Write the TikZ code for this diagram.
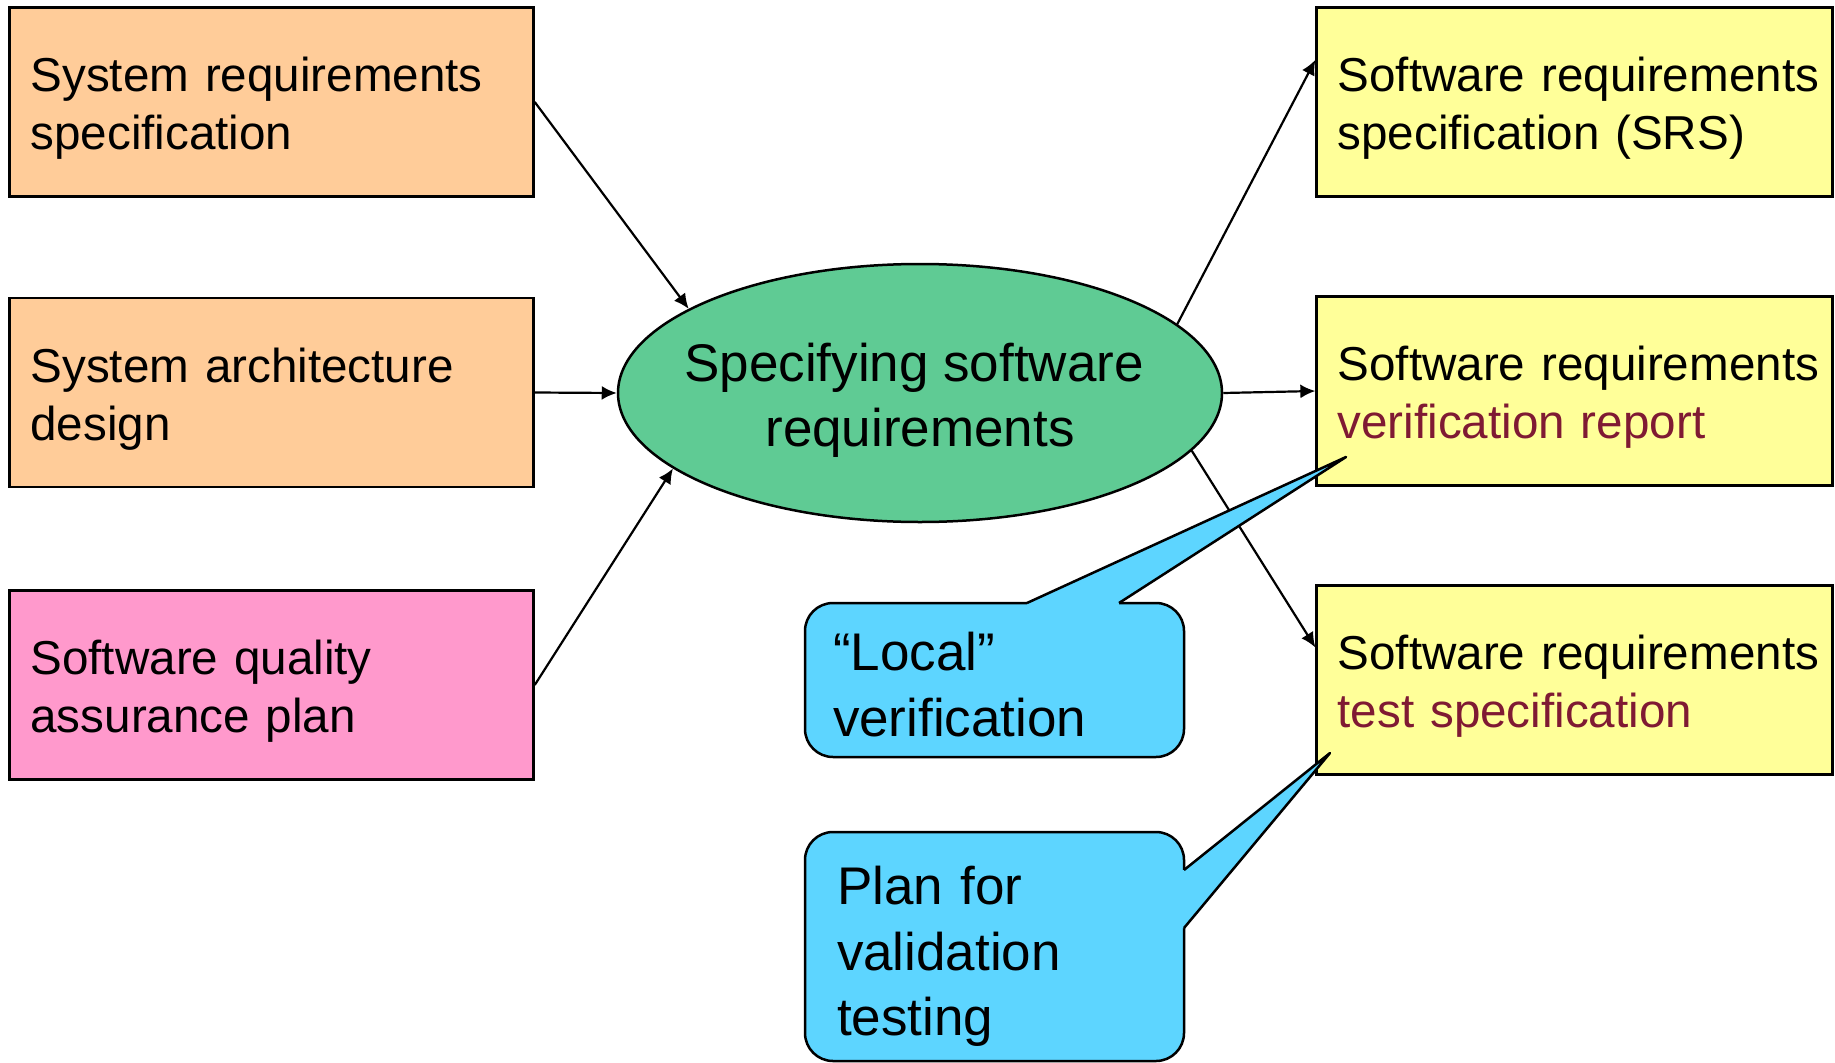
\documentclass[tikz,border=0pt]{standalone}
\usepackage{fontspec}
\setmainfont{Liberation Sans}
\usetikzlibrary{arrows.meta,calc,shapes.geometric}
\definecolor{peach}{HTML}{FFCC99}
\definecolor{pinkbox}{HTML}{FF99CC}
\definecolor{yellowbox}{HTML}{FFFF99}
\definecolor{greenell}{HTML}{5FCB94}
\definecolor{bluecall}{HTML}{5DD5FF}
\definecolor{darkred}{HTML}{7F1A33}
% struts fixing the vertical placement of multi-line texts
\newcommand\tsA{\rule{0pt}{49pt}}
\newcommand\bsA{\rule[-12pt]{0pt}{12pt}}
\newcommand\tsB{\rule{0pt}{59pt}}
\newcommand\tsE{\rule{0pt}{54pt}}
\newcommand\bsB{\rule[-12pt]{0pt}{12pt}}
\tikzset{
  boxnode/.style={draw=black, line width=2.5pt, rectangle, inner xsep=21pt, inner ysep=0pt,
    align=left, font=\fontsize{47.6pt}{58pt}\selectfont},
  leftbox/.style={boxnode, text width=482pt, minimum height=189pt},
  rightbox/.style={boxnode, fill=yellowbox, text width=474pt, minimum height=189pt},
  conn/.style={line width=2.2pt, -{Latex[length=15pt,width=14pt]}},
  callnode/.style={draw=black, line width=2.5pt, fill=bluecall, rounded corners=28pt,
    align=left, inner ysep=0pt, font=\fontsize{53pt}{65.5pt}\selectfont},
  callline/.style={draw=black, line width=2.5pt, line join=round},
}
\begin{document}
\begin{tikzpicture}[x=1pt,y=-1pt]
\useasboundingbox (0,0) rectangle (1835,1062);
\fill[white] (0,0) rectangle (1835,1062);

% left boxes
\node[leftbox, fill=peach] (b1) at (271.5,102) {\tsA System requirements\\specification\bsA};
\node[leftbox, fill=peach] (b2) at (271.5,392.5) {\tsA System architecture\\design\bsA};
\node[leftbox, fill=pinkbox] (b3) at (271.5,685) {\tsA Software quality\\assurance plan\bsA};

% ellipse
\node[ellipse, draw=black, line width=2.5pt, fill=greenell, minimum width=604pt, minimum height=258pt,
  inner sep=0pt] (ell) at (920,393) {};
\node[align=center, inner sep=0pt, font=\fontsize{53pt}{65pt}\selectfont] (ellt) at (ell.center)
  {\tsE Specifying software\hspace*{12pt}\\requirements\bsB};

% right boxes
\node[rightbox] (r1) at (1574.6,102) {\tsA\mbox{Software requirements}\\specification (SRS)\bsA};
\node[rightbox] (r2) at (1574.6,391) {\tsA\mbox{Software requirements}\\\textcolor{darkred}{verification report}\bsA};
\node[rightbox] (r3) at (1574.6,680) {\tsA\mbox{Software requirements}\\\textcolor{darkred}{test specification}\bsA};

% connectors
\draw[conn] (b1.east) -- (ell.160.5);
\draw[conn] (b2.east) -- (ell.west);
\draw[conn] (b3.east) -- (ell.197);
\draw[conn] (ell.15) -- ($(r1.north west)!0.28!(r1.south west)$);
\draw[conn] (ell.east) -- (r2.west);
\draw[conn] (ell.-12.5) -- ($(r3.north west)!0.33!(r3.south west)$);

% callout 1
\node[callnode, inner xsep=28pt, text width=323pt, minimum height=154pt] (c1) at (994.5,680)
  {\tsB “Local”\\verification\bsB};
\coordinate (t1) at (1346,457);
\coordinate (c1a) at (1027,603);
\coordinate (c1b) at (1119,603);
\fill[bluecall] (c1a) -- (t1) -- (c1b) -- ($(c1b)+(0,4)$) -- ($(c1a)+(0,4)$) -- cycle;
\draw[callline] (c1a) -- (t1) -- (c1b);

% callout 2
\node[callnode, inner xsep=32pt, text width=315pt, minimum height=229pt] (c2) at (994.5,946.5)
  {\tsB Plan for\\validation\\testing\bsB};
\coordinate (t2) at (1330,753);
\coordinate (c2a) at (1184,870);
\coordinate (c2b) at (1184,928);
\fill[bluecall] (c2a) -- (t2) -- (c2b) -- ($(c2b)+(-4,0)$) -- ($(c2a)+(-4,0)$) -- cycle;
\draw[callline] (c2a) -- (t2) -- (c2b);
\end{tikzpicture}
\end{document}
